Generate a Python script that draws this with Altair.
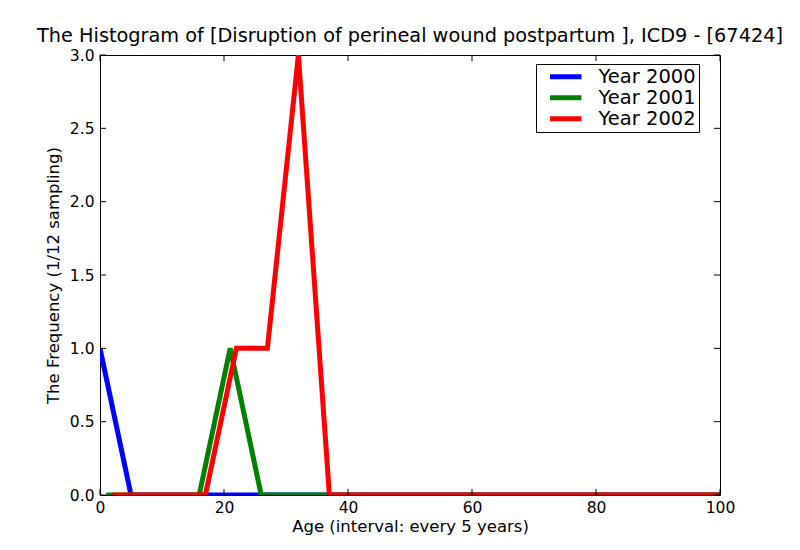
import altair as alt
import pandas as pd

ages_2000 = list(range(0, 101, 5))
ages_2001 = list(range(1, 102, 5))
ages_2002 = list(range(2, 103, 5))
freq_2000 = [1, 0, 0, 0, 0, 0, 0, 0, 0, 0, 0, 0, 0, 0, 0, 0, 0, 0, 0, 0, 0]
freq_2001 = [0, 0, 0, 0, 1, 0, 0, 0, 0, 0, 0, 0, 0, 0, 0, 0, 0, 0, 0, 0, 0]
freq_2002 = [0, 0, 0, 0, 1, 1, 3, 0, 0, 0, 0, 0, 0, 0, 0, 0, 0, 0, 0, 0, 0]
series = ["Year 2000", "Year 2001", "Year 2002"]
colors = ["#0000ff", "#008000", "#ff0000"]
x_ticks = [0, 20, 40, 60, 80, 100]
y_ticks = [0.0, 0.5, 1.0, 1.5, 2.0, 2.5, 3.0]

rows = []
for name, xs, ys in zip(series, [ages_2000, ages_2001, ages_2002], [freq_2000, freq_2001, freq_2002]):
    for i, (a, f) in enumerate(zip(xs, ys)):
        rows.append({"series": name, "age": a, "freq": f, "order": i})
df = pd.DataFrame(rows)

W, H = 620, 440
FONT = "DejaVu Sans"
TL = 6

xscale = alt.Scale(domain=[0, 100], nice=False, zero=False)
yscale = alt.Scale(domain=[0, 3], nice=False, zero=False)

lines = alt.Chart(df).mark_line(strokeWidth=5, clip=True).encode(
    x=alt.X("age:Q", scale=xscale,
            axis=alt.Axis(values=x_ticks, title="Age (interval: every 5 years)", tickSize=0,
                          labelPadding=5, grid=False, domain=False, labelFont=FONT,
                          labelFontSize=15.5, titleFont=FONT, titleFontSize=16.5,
                          titleFontWeight="normal", titlePadding=3, labelColor="black",
                          titleColor="black", labelFlush=False)),
    y=alt.Y("freq:Q", scale=yscale,
            axis=alt.Axis(values=y_ticks, format=".1f", title="The Frequency (1/12 sampling)",
                          tickSize=0, labelPadding=6, grid=False, domain=False, labelFont=FONT,
                          labelFontSize=15.5, titleFont=FONT, titleFontSize=16.5,
                          titleFontWeight="normal", titlePadding=8, labelColor="black",
                          titleColor="black", labelFlush=False)),
    color=alt.Color("series:N", scale=alt.Scale(domain=series, range=colors),
                    legend=alt.Legend(title=None, orient="none", legendX=436, legendY=9,
                                      symbolType="M-3,0H3", symbolStrokeWidth=5, symbolSize=110,
                                      labelFont=FONT, labelFontSize=19.5, labelColor="black",
                                      strokeColor="black", fillColor="white", padding=3,
                                      symbolOffset=17, rowPadding=0, labelOffset=23,
                                      labelExpr="datum.label + '\u00a0\u00a0'",
                                      cornerRadius=0)),
    order="order:Q",
)

xt = pd.DataFrame({"t": x_ticks})
yt = pd.DataFrame({"t": y_ticks})
bx = alt.Chart(xt).mark_rule(color="black", strokeWidth=1)
by = alt.Chart(yt).mark_rule(color="black", strokeWidth=1)
ticks = [
    bx.encode(x=alt.X("t:Q", scale=xscale), y=alt.value(H), y2=alt.value(H - TL)),
    bx.encode(x=alt.X("t:Q", scale=xscale), y=alt.value(0), y2=alt.value(TL)),
    by.encode(y=alt.Y("t:Q", scale=yscale), x=alt.value(0), x2=alt.value(TL)),
    by.encode(y=alt.Y("t:Q", scale=yscale), x=alt.value(W), x2=alt.value(W - TL)),
]

chart = alt.layer(lines, *ticks).properties(
    width=W, height=H,
    title=alt.TitleParams("The Histogram of [Disruption of perineal wound postpartum ], ICD9 - [67424]",
                          font=FONT, fontSize=19.3, fontWeight="normal", color="black",
                          anchor="middle", offset=2),
    autosize=alt.AutoSizeParams(type="none"),
    padding={"left": 92, "top": 47, "right": 72, "bottom": 47},
).configure(background="white").configure_view(stroke="black", strokeWidth=1)

chart.save("out.html", embed_options={"renderer": "svg", "actions": False})
